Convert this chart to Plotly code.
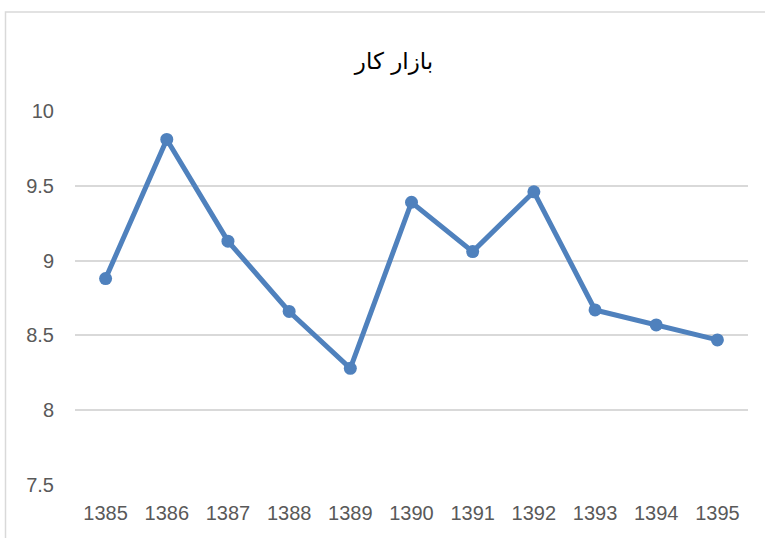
import plotly.graph_objects as go

years = ["1385", "1386", "1387", "1388", "1389", "1390", "1391", "1392", "1393", "1394", "1395"]
values = [8.88, 9.81, 9.13, 8.66, 8.28, 9.39, 9.06, 9.46, 8.67, 8.57, 8.47]
y_ticks = [7.5, 8, 8.5, 9, 9.5, 10]
y_tick_labels = ["7.5", "8", "8.5", "9", "9.5", "10"]
title_text = "بازار کار"

fig = go.Figure()
fig.add_trace(go.Scatter(
    x=years, y=values, mode="lines+markers",
    line=dict(color="#4F81BD", width=5),
    marker=dict(color="#4F81BD", size=13),
    showlegend=False, hoverinfo="skip",
))

W, H = 765, 538
L, R, T, B = 75, 17, 111, 53
pw, ph = W - L - R, H - T - B
tick_font = dict(family="Liberation Sans, Arial", size=20, color="#595959")

fig.update_layout(
    width=W, height=H,
    margin=dict(l=L, r=R, t=T, b=B),
    paper_bgcolor="white", plot_bgcolor="white",
    title=dict(text=title_text, x=(394 - L) / pw, xref="paper", xanchor="center",
               y=1 - 61 / H, yref="container", yanchor="middle",
               font=dict(family="DejaVu Sans", size=23, color="#000000")),
    xaxis=dict(type="category", range=[-0.5, len(years) - 0.5], showgrid=False,
               zeroline=False, showline=False,
               ticks="", tickfont=tick_font, ticklabelstandoff=14),
    yaxis=dict(range=[7.5, 10], tickvals=y_ticks, ticktext=y_tick_labels,
               showgrid=True, gridcolor="#D9D9D9", gridwidth=1.5, zeroline=False,
               showline=False, ticks="", tickfont=tick_font, ticklabelstandoff=20),
    shapes=[dict(type="rect", xref="paper", yref="paper",
                 x0=(5.5 - L) / pw, x1=(W + 5 - L) / pw,
                 y0=-(H + 5 - T - ph) / ph, y1=1 + (T - 12) / ph,
                 line=dict(color="#D9D9D9", width=1.5), fillcolor="rgba(0,0,0,0)", layer="below")],
)

fig.write_html("out.html", config={"displayModeBar": False},
               post_script="document.body.style.margin='0';document.body.style.overflow='hidden';")
